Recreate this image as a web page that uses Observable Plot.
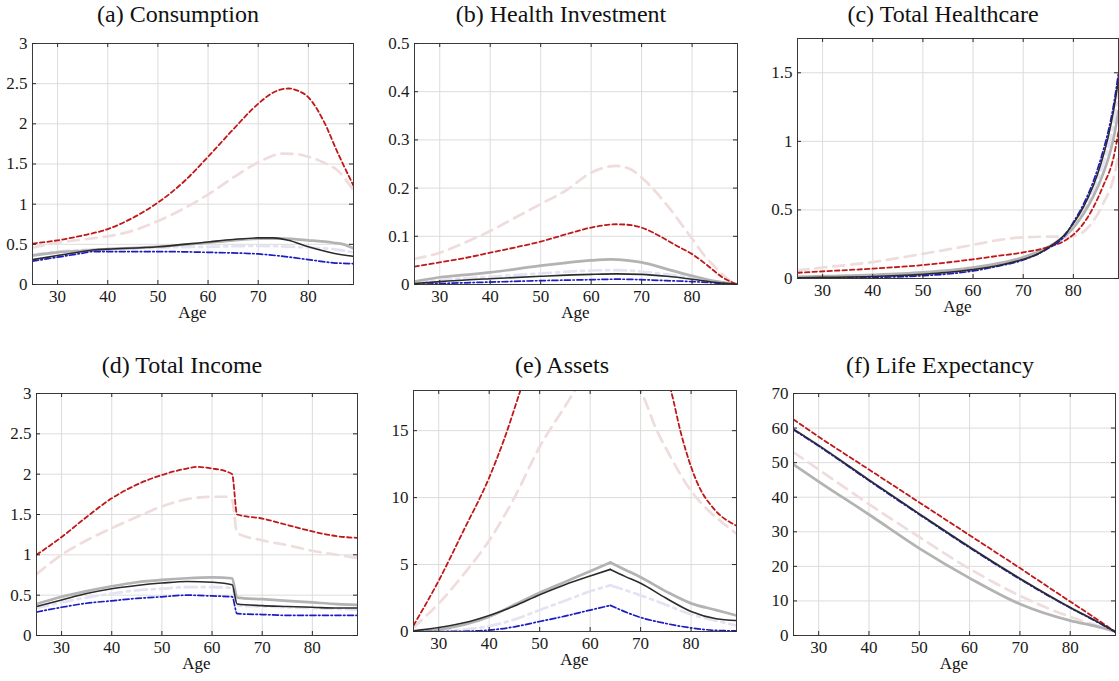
<!DOCTYPE html>
<html><head><meta charset="utf-8">
<script src="https://cdn.jsdelivr.net/npm/d3@7"></script>
<script src="https://cdn.jsdelivr.net/npm/@observablehq/plot@0.6"></script>
<style>
html,body{margin:0;padding:0;background:#fff;overflow:hidden;}
#root{position:relative;width:1119px;height:681px;}
.panel{position:absolute;}
.panel text, #overlay text{font-family:"Liberation Serif","Times New Roman",serif !important;}
#overlay{position:absolute;left:0;top:0;pointer-events:none;}
</style></head><body><div id="root"></div>
<script>
// ---------- data: [age, value] ----------
const xTickLabels = [30, 40, 50, 60, 70, 80];

// (a) Consumption
const consRed = [[25,.51],[30,.55],[35,.61],[40,.69],[45,.83],[50,1.02],[55,1.27],[60,1.59],[65,1.93],[70,2.25],[73,2.39],[76,2.44],[78,2.41],[80,2.33],[83,2.04],[86,1.62],[89,1.23]];
const consPink = [[25,.46],[30,.52],[35,.56],[40,.6],[45,.67],[50,.79],[55,.94],[60,1.12],[65,1.33],[70,1.52],[75,1.63],[78,1.62],[80,1.59],[83,1.52],[86,1.41],[89,1.17]];
const consGray = [[25,.36],[30,.4],[35,.42],[40,.44],[50,.47],[60,.52],[65,.55],[70,.57],[75,.57],[80,.55],[85,.52],[87,.5],[89,.45]];
const consBlack = [[25,.31],[30,.36],[35,.41],[37,.43],[40,.44],[50,.47],[60,.53],[65,.56],[70,.58],[73,.58],[76,.55],[80,.47],[85,.39],[89,.35]];
const consLav = [[25,.37],[30,.41],[35,.43],[40,.44],[50,.46],[60,.47],[70,.48],[80,.46],[85,.44],[89,.4]];
const consBlue = [[25,.29],[30,.34],[35,.39],[37,.41],[40,.41],[50,.41],[60,.4],[70,.38],[75,.35],[80,.31],[85,.27],[89,.26]];
const consTicks = [0, 0.5, 1, 1.5, 2, 2.5, 3];

// (b) Health Investment
const hiRed = [[25,.037],[30,.046],[35,.055],[40,.066],[45,.077],[50,.089],[55,.104],[60,.118],[65,.125],[68,.123],[70,.118],[74,.098],[77,.08],[80,.063],[83,.04],[86,.015],[89,0]];
const hiPink = [[25,.053],[30,.066],[35,.087],[40,.111],[45,.139],[50,.167],[55,.195],[60,.232],[65,.246],[68,.238],[70,.222],[73,.19],[75,.165],[80,.095],[83,.053],[85,.032],[87,.012],[89,0]];
const hiGray = [[25,.006],[30,.015],[35,.02],[40,.025],[45,.032],[50,.039],[55,.045],[60,.05],[64,.052],[67,.05],[70,.046],[75,.032],[80,.018],[85,.006],[89,0]];
const hiBlack = [[25,.002],[30,.006],[40,.012],[50,.017],[60,.021],[65,.022],[70,.021],[75,.017],[80,.011],[85,.004],[89,0]];
const hiLav = [[25,.004],[30,.009],[40,.016],[50,.023],[60,.029],[65,.03],[70,.027],[75,.021],[80,.014],[85,.006],[89,0]];
const hiBlue = [[25,0],[30,.002],[40,.005],[50,.008],[60,.01],[65,.011],[70,.01],[75,.008],[80,.006],[85,.003],[89,0]];
const hiTicks = [0, 0.1, 0.2, 0.3, 0.4, 0.5];

// (c) Total Healthcare
const hcRed = [[25,.042],[30,.052],[40,.072],[50,.098],[60,.14],[65,.165],[70,.19],[75,.23],[78,.27],[80,.32],[82,.4],[84,.52],[86,.68],[88,.88],[89,1.07]];
const hcPink = [[25,.06],[30,.08],[40,.12],[50,.18],[60,.245],[65,.28],[70,.3],[75,.305],[78,.305],[80,.31],[82,.34],[84,.42],[86,.55],[88,.73],[89,.9]];
const hcGray = [[25,.012],[30,.017],[40,.027],[50,.045],[60,.08],[65,.11],[70,.155],[75,.23],[78,.3],[80,.37],[82,.47],[84,.6],[86,.77],[87,.88],[88,1.02],[89,1.22]];
const hcBlack = [[25,.005],[30,.008],[40,.015],[50,.03],[55,.045],[60,.065],[65,.095],[70,.14],[73,.18],[76,.25],[78,.31],[80,.4],[82,.52],[84,.68],[85,.78],[86,.9],[87,1.04],[88,1.22],[89,1.45]];
const hcLav = [[25,.008],[30,.012],[40,.02],[50,.035],[60,.07],[65,.1],[70,.145],[75,.225],[80,.39],[82,.5],[84,.65],[86,.84],[88,1.12],[89,1.35]];
const hcBlue = [[25,0],[30,.003],[40,.008],[50,.02],[60,.055],[65,.09],[70,.135],[75,.22],[78,.3],[80,.41],[82,.54],[84,.71],[86,.94],[87,1.08],[88,1.26],[89,1.5]];
const hcTicks = [0, 0.5, 1, 1.5];

// (d) Total Income
const incRed = [[25,1.0],[30,1.22],[35,1.47],[40,1.7],[45,1.87],[50,1.99],[55,2.07],[57,2.09],[60,2.07],[63,2.03],[64,2.0],[65,1.5],[70,1.45],[75,1.37],[80,1.29],[85,1.23],[89,1.21]];
const incPink = [[25,.76],[30,1.0],[35,1.18],[40,1.33],[45,1.47],[50,1.6],[55,1.69],[60,1.72],[63,1.72],[64,1.68],[65,1.27],[70,1.18],[75,1.12],[80,1.05],[85,1.0],[89,.96]];
const incGray = [[25,.39],[30,.48],[35,.55],[40,.61],[45,.66],[50,.69],[55,.71],[60,.72],[64,.71],[65,.47],[70,.45],[75,.43],[80,.41],[85,.39],[89,.38]];
const incBlack = [[25,.36],[30,.44],[35,.52],[40,.58],[45,.62],[50,.65],[55,.67],[60,.66],[64,.63],[65,.39],[70,.37],[75,.36],[80,.35],[85,.34],[89,.34]];
const incLav = [[25,.34],[30,.41],[35,.47],[40,.52],[45,.56],[50,.58],[55,.6],[60,.6],[64,.59],[65,.37],[70,.36],[75,.35],[80,.34],[85,.33],[89,.32]];
const incBlue = [[25,.29],[30,.35],[35,.4],[40,.43],[45,.46],[50,.48],[55,.5],[60,.49],[64,.48],[65,.27],[70,.26],[75,.25],[80,.25],[85,.25],[89,.25]];
const incTicks = [0, 0.5, 1, 1.5, 2, 2.5, 3];

// (e) Assets
const astRed = [[25,.45],[30,3.8],[35,7.6],[40,11.5],[43,14.4],[46,17.8],[50,22.5],[55,27],[60,30],[64,31.5],[68,26],[72,21.5],[76,18],[78,14.8],[80,12.3],[82,10.5],[84,9.4],[86,8.6],[88,8.1],[89,7.9]];
const astPink = [[25,.3],[30,2.1],[35,4.3],[40,6.8],[45,10],[50,13.8],[55,16.8],[57,18],[60,19.5],[64,20.5],[67,19.3],[70,18],[73,15.2],[76,13],[80,10.5],[83,9.2],[86,8.2],[89,7.3]];
const astGray = [[25,0],[30,.15],[35,.5],[40,1.1],[45,2.0],[50,2.9],[55,3.7],[60,4.5],[64,5.15],[67,4.6],[70,4.05],[75,3.0],[80,2.1],[85,1.6],[89,1.2]];
const astBlack = [[25,.05],[30,.3],[35,.65],[40,1.2],[45,1.9],[50,2.75],[55,3.5],[60,4.15],[64,4.64],[67,4.1],[70,3.6],[75,2.5],[80,1.5],[85,.95],[89,.82]];
const astLav = [[25,0],[30,.05],[35,.15],[40,.4],[45,.9],[50,1.6],[55,2.3],[60,3.0],[64,3.45],[70,2.7],[75,2.0],[80,1.27],[85,.8],[89,.45]];
const astBlue = [[25,0],[30,0],[35,.02],[40,.1],[45,.35],[50,.75],[55,1.15],[60,1.6],[64,1.95],[70,1.05],[75,.6],[80,.27],[85,.08],[89,.05]];
const astTicks = [0, 5, 10, 15];

// (f) Life Expectancy
const leRed = [[25,62.5],[30,57.5],[40,48],[50,38.5],[60,29],[70,19.5],[80,9.8],[85,5],[89,1]];
const lePink = [[25,53],[30,48],[35,43],[40,38],[50,28.5],[60,19.3],[70,11.5],[80,5.4],[85,3],[89,1]];
const leGray = [[25,49.5],[30,44.5],[40,35],[50,25.2],[60,16.6],[70,9.1],[80,4.3],[85,2.7],[89,1.2]];
const leBlack = [[25,59.7],[30,55],[40,45],[50,35.2],[60,25.6],[70,16.5],[80,8.1],[85,4.3],[89,1]];
const leLav = [[25,59.7],[30,55],[40,45],[50,35.2],[60,25.6],[70,16.5],[80,8.1],[85,4.3],[89,1]];
const leBlue = [[25,59.5],[30,54.8],[40,44.8],[50,35],[60,25.4],[70,16.3],[80,8],[85,4.2],[89,1]];
const leTicks = [0, 10, 20, 30, 40, 50, 60, 70];

const titles = ["(a) Consumption","(b) Health Investment","(c) Total Healthcare","(d) Total Income","(e) Assets","(f) Life Expectancy"];

// ---------- styles ----------
const STY = {
  pink:  {stroke:"#efdcdc", strokeWidth:2.7, strokeDasharray:"11,7"},
  lav:   {stroke:"#e3e3f3", strokeWidth:2.7, strokeDasharray:"12,5,3,5"},
  gray:  {stroke:"#b3b3b3", strokeWidth:2.7},
  red:   {stroke:"#c01818", strokeWidth:1.8, strokeDasharray:"4.5,3"},
  blue:  {stroke:"#1c1cc4", strokeWidth:1.7, strokeDasharray:"6,2.5,1.5,2.5"},
  black: {stroke:"#2b2b2b", strokeWidth:1.6}
};
const ORDER = ["pink","lav","gray","red","blue","black"];

const panels = [
  {frame:[32,353,43,284], ydom:[0,3], yt:consTicks, title:[178,22], s:{pink:consPink,lav:consLav,gray:consGray,red:consRed,blue:consBlue,black:consBlack}},
  {frame:[414,737,43,284], ydom:[0,0.5], yt:hiTicks, title:[561,22], s:{pink:hiPink,lav:hiLav,gray:hiGray,red:hiRed,blue:hiBlue,black:hiBlack}},
  {frame:[797,1118,38,278], ydom:[0,1.75], yt:hcTicks, title:[943,22], mr:1, s:{pink:hcPink,lav:hcLav,gray:hcGray,red:hcRed,blue:hcBlue,black:hcBlack}},
  {frame:[36,357,393,635], ydom:[0,3], yt:incTicks, title:[182,373], s:{pink:incPink,lav:incLav,gray:incGray,red:incRed,blue:incBlue,black:incBlack}},
  {frame:[413,736,390,631], ydom:[0,18], yt:astTicks, title:[562,373], split:64, s:{pink:astPink,lav:astLav,gray:astGray,red:astRed,blue:astBlue,black:astBlack}},
  {frame:[793,1115,393,635], ydom:[0,70], yt:leTicks, title:[940,373], s:{pink:lePink,lav:leLav,gray:leGray,red:leRed,blue:leBlue,black:leBlack}}
];

const root = document.getElementById("root");
const ML = 44, MT = 14, MB = 30;
const FONT = '"Liberation Serif", "Times New Roman", serif';

panels.forEach((p, i) => {
  const [x0,x1,y0,y1] = p.frame;
  const fw = x1-x0, fh = y1-y0;
  const MR = p.mr ?? 4;
  const lineMarks = [];
  for (const k of ORDER) {
    const data = p.s[k];
    const parts = p.split != null
      ? [data.filter(d => d[0] <= p.split), data.filter(d => d[0] >= p.split)]
      : [data];
    for (const part of parts) {
      lineMarks.push(Plot.line(part, {x: d => d[0], y: d => d[1], curve: "monotone-x", clip: true, ...STY[k]}));
    }
  }
  const chart = Plot.plot({
    width: ML + fw + MR, height: MT + fh + MB,
    marginLeft: ML, marginRight: MR, marginTop: MT, marginBottom: MB,
    x: {domain:[25,89]}, y: {domain: p.ydom},
    style: {fontFamily: FONT, fontSize: "17px", color: "#1a1a1a", background: "transparent"},
    marks: [
      Plot.gridX(xTickLabels, {stroke:"#dcdcdc", strokeOpacity:1}),
      Plot.gridY(p.yt, {stroke:"#dcdcdc", strokeOpacity:1}),
      ...lineMarks,
      Plot.frame({stroke:"#3a3a3a", strokeWidth:1}),
      Plot.tickX(xTickLabels, {x: d => d, insetTop: fh-4, stroke:"#2a2a2a"}),
      Plot.tickX(xTickLabels, {x: d => d, insetBottom: fh-4, stroke:"#2a2a2a"}),
      Plot.tickY(p.yt, {y: d => d, insetRight: fw-4, stroke:"#2a2a2a"}),
      Plot.tickY(p.yt, {y: d => d, insetLeft: fw-4, stroke:"#2a2a2a"}),
      Plot.axisX(xTickLabels, {tickSize:0, tickPadding:5, fontSize:17, fontFamily: FONT, label:null, tickFormat: d => String(d)}),
      Plot.axisY(p.yt, {tickSize:0, tickPadding:5, fontSize:17, fontFamily: FONT, label:null, tickFormat: d => String(d)})
    ]
  });
  chart.classList.add("panel");
  chart.style.left = (x0 - ML) + "px";
  chart.style.top = (y0 - MT) + "px";
  root.appendChild(chart);
});

// titles and axis labels
const ns = "http://www.w3.org/2000/svg";
const ov = document.createElementNS(ns, "svg");
ov.setAttribute("id","overlay"); ov.setAttribute("width",1119); ov.setAttribute("height",681);
panels.forEach((p, i) => {
  const t = document.createElementNS(ns, "text");
  t.setAttribute("x", p.title[0]); t.setAttribute("y", p.title[1]);
  t.setAttribute("text-anchor","middle");
  t.setAttribute("font-family", FONT); t.setAttribute("font-size", "24px"); t.setAttribute("fill","#111");
  t.textContent = titles[i];
  ov.appendChild(t);
  const a = document.createElementNS(ns, "text");
  a.setAttribute("x", (p.frame[0]+p.frame[1])/2); a.setAttribute("y", p.frame[3] + 34);
  a.setAttribute("text-anchor","middle");
  a.setAttribute("font-family", FONT); a.setAttribute("font-size", "17px"); a.setAttribute("fill","#111");
  a.textContent = "Age";
  ov.appendChild(a);
});
root.appendChild(ov);
</script>
</body></html>
